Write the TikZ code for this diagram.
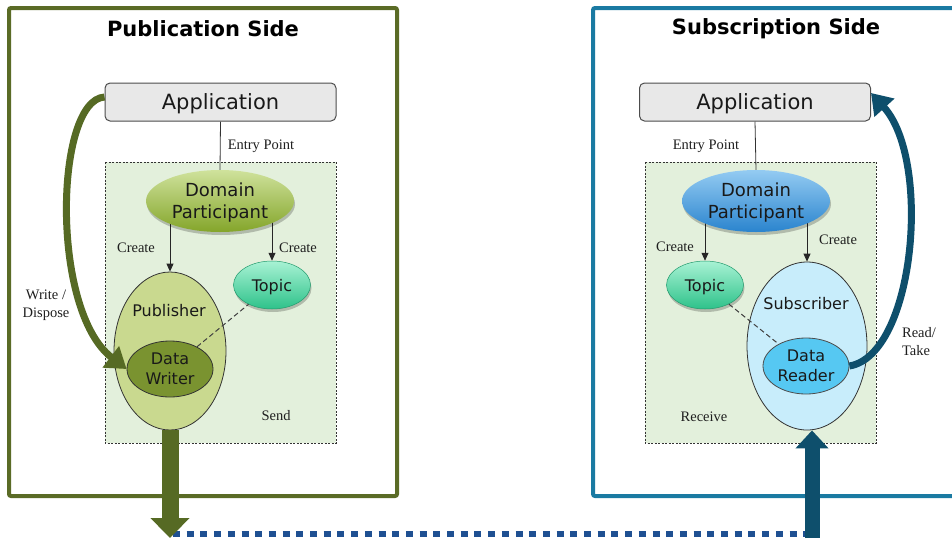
\documentclass[tikz,border=0pt]{standalone}
\usepackage{fontspec}
\setmainfont{Liberation Serif}
\setsansfont{DejaVu Sans}
\usetikzlibrary{arrows.meta,shapes.geometric,shadows}

\definecolor{pubFrame}{HTML}{5A6B26}
\definecolor{subFrame}{HTML}{1A7AA2}
\definecolor{pubArrow}{HTML}{566A24}
\definecolor{subArrow}{HTML}{0E4F6C}
\definecolor{dotBlue}{HTML}{1F5092}
\definecolor{zoneFill}{HTML}{E3F0DC}
\definecolor{appFill}{HTML}{E8E8E8}
\definecolor{dpGreenTop}{HTML}{CFE29C}
\definecolor{dpGreenBot}{HTML}{84A52A}
\definecolor{dpBlueTop}{HTML}{94CBF2}
\definecolor{dpBlueBot}{HTML}{2A84CE}
\definecolor{topicTop}{HTML}{A8F2D4}
\definecolor{topicBot}{HTML}{2EC28A}
\definecolor{pubFill}{HTML}{C9D98F}
\definecolor{dwFill}{HTML}{7A9330}
\definecolor{subFill}{HTML}{C8EDFB}
\definecolor{drFill}{HTML}{56C8F2}

\pgfdeclarelayer{back}
\pgfdeclarelayer{mid}
\pgfsetlayers{back,mid,main}

\tikzset{
  frame/.style={line width=4pt, rounded corners=2pt},
  zone/.style={draw=black!80, fill=zoneFill, dash pattern=on 2pt off 1.5pt, line width=0.8pt},
  title/.style={font=\sffamily\bfseries\fontsize{21}{25}\selectfont, inner sep=0pt},
  appbox/.style={draw=black!70, fill=appFill, rounded corners=5pt, line width=1pt,
    minimum width=231pt, minimum height=38pt, inner sep=0pt, text depth=0pt,
    font=\sffamily\fontsize{21}{25}\selectfont, text=black!90},
  softshadow/.style={drop shadow={shadow xshift=1pt, shadow yshift=-3pt, opacity=0.22, fill=black}},
  oval/.style={ellipse, inner sep=0pt, align=center, text=black!90},
  dpstyle/.style={oval, softshadow, minimum width=148pt, minimum height=62pt, text depth=0pt,
    font=\sffamily\fontsize{18}{22}\selectfont},
  topicstyle/.style={oval, softshadow, draw=topicBot!80!black, line width=0.5pt, text depth=0pt,
    top color=topicTop, bottom color=topicBot, minimum width=77pt, minimum height=48pt,
    font=\sffamily\fontsize{16}{20}\selectfont},
  bigoval/.style={oval, draw=black!80, line width=0.8pt},
  inneroval/.style={oval, draw=black!80, line width=0.8pt, minimum width=86pt, minimum height=56pt,
    font=\sffamily\fontsize{16}{20}\selectfont},
  ovallabel/.style={inner sep=0pt, font=\sffamily\fontsize{16}{20}\selectfont, text=black!90},
  lbl/.style={font=\fontsize{14.5}{18}\selectfont, text=black!88, inner sep=0pt},
  createarrow/.style={-{Triangle[width=7pt,length=8pt]}, line width=0.8pt, draw=black!85},
  assoc/.style={dash pattern=on 5pt off 3pt, line width=1pt, draw=black!75},
}

\begin{document}
\begin{tikzpicture}[x=1pt,y=-1pt]
\useasboundingbox (0,0) rectangle (952,541);

% ---------- titles ----------
\node[title] (titleL) at (203,29) {Publication Side};
\node[title] (titleR) at (776,29) {Subscription Side};

% ---------- publication side nodes ----------
\node[appbox] (appL) at (220.5,102) {Application};
\node[dpstyle, top color=dpGreenTop, bottom color=dpGreenBot] (dpL) at (220,201) {Domain\\Participant};
\node[topicstyle] (topL) at (272,285) {Topic};
\node[bigoval, fill=pubFill, minimum width=112pt, minimum height=158pt] (pubE) at (170,351) {};
\node[ovallabel] (pubLbl) at (169,311) {Publisher};
\node[inneroval, fill=dwFill] (dwL) at (170,369) {Data\\Writer};

% ---------- subscription side nodes ----------
\node[appbox] (appR) at (755,102) {Application};
\node[dpstyle, top color=dpBlueTop, bottom color=dpBlueBot] (dpR) at (756,201) {Domain\\Participant};
\node[topicstyle] (topR) at (705,285) {Topic};
\node[bigoval, fill=subFill, minimum width=120pt, minimum height=168pt] (subE) at (807,346) {};
\node[ovallabel] (subLbl) at (806,304) {Subscriber};
\node[inneroval, fill=drFill, draw=black!70] (drR) at (806,366) {Data\\Reader};

% ---------- labels ----------
\node[lbl] (entryL) at (261,146) {Entry Point};
\node[lbl] (createL1) at (136,248) {Create};
\node[lbl] (createL2) at (298,248) {Create};
\node[lbl, align=center] (wdL) at (46,305) {Write /\\Dispose};
\node[lbl] (sendL) at (276,416) {Send};
\node[lbl] (entryR) at (706,146) {Entry Point};
\node[lbl] (createR1) at (675,247) {Create};
\node[lbl] (createR2) at (838,240) {Create};
\node[lbl] (recvR) at (704,417) {Receive};
\node[lbl, align=left] (rtR) at (919,342) {Read/\\Take};

% ---------- frames and entity zones ----------
\begin{pgfonlayer}{back}
  \draw[frame, pubFrame] (9,8) rectangle (397,496);
  \draw[frame, subFrame] (593,8) rectangle (968,496);
  \path[zone] (105,162) rectangle (336,443);
  \path[zone] (645,162) rectangle (876,443);
\end{pgfonlayer}

% ---------- entry points and creation links ----------
\begin{pgfonlayer}{mid}
  \draw[line width=0.8pt, black!80] (appL.south) -- (dpL.north);
  \draw[line width=0.8pt, black!80] (appR.south) -- (dpR.north);
  \draw[createarrow] (dpL.center -| pubE.north) -- (pubE.north);
  \draw[createarrow] (dpL.center -| topL.north) -- (topL.north);
  \draw[createarrow] (dpR.center -| topR.north) -- (topR.north);
  \draw[createarrow] (dpR.center -| subE.north) -- (subE.north);
\end{pgfonlayer}

% ---------- topic associations ----------
\draw[assoc] (dwL) -- (topL);
\draw[assoc] (topR) -- (drR);

% ---------- application data flow ----------
\draw[pubArrow, line width=7pt, -{Triangle[width=26pt,length=20pt]}]
  ([yshift=5pt]appL.west) .. controls (55,100) and (50,310) .. (dwL.west);
\draw[subArrow, line width=7pt, -{Triangle[width=26pt,length=20pt]}]
  (drR.east) .. controls (915,355) and (932,160) .. ([yshift=9pt]appR.east);

% ---------- network transport ----------
\coordinate (dotS) at (173,534);
\coordinate (dotE) at (810,534);
\coordinate (pubTip) at (170,538);
\coordinate (subBase) at (812,538);
\draw[dotBlue, line width=6pt, dash pattern=on 7pt off 6.7pt] (dotS) -- (dotE);
\draw[pubArrow, line width=17pt, -{Triangle[width=38pt,length=20pt]}] (pubE.south) -- (pubTip);
\draw[subArrow, line width=15pt, -{Triangle[width=32pt,length=18pt]}] (subBase) -- (subBase |- subE.south);
\end{tikzpicture}
\end{document}
